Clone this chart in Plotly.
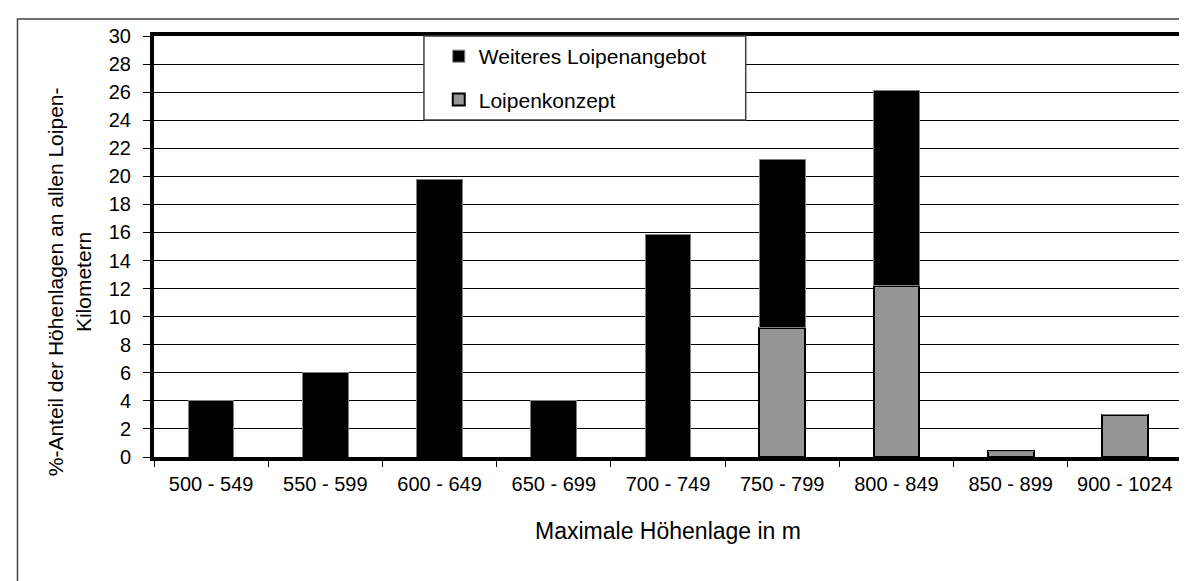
import plotly.graph_objects as go

# Höhenlagen (Kategorien) und Anteile in %
kategorien = ["500 - 549", "550 - 599", "600 - 649", "650 - 699", "700 - 749",
              "750 - 799", "800 - 849", "850 - 899", "900 - 1024"]
loipenkonzept = [0, 0, 0, 0, 0, 9.2, 12.2, 0.4, 3.0]
weiteres_angebot = [4.0, 6.0, 19.75, 4.0, 15.85, 12.0, 13.9, 0, 0]

y_ticks = list(range(0, 31, 2))

schrift = "Liberation Sans, Arial, sans-serif"

fig = go.Figure()

fig.add_trace(go.Bar(
    x=kategorien, y=loipenkonzept, name="Loipenkonzept",
    marker=dict(color="#969696", line=dict(color="#000000", width=2)),
    legendgroup="a", legendrank=2,
))
fig.add_trace(go.Bar(
    x=kategorien, y=weiteres_angebot, name="Weiteres Loipenangebot",
    marker=dict(color="#000000", line=dict(color="#808080", width=1)),
    legendgroup="b", legendrank=1,
))

# Rahmen um das ganze Diagramm und Kasten der Legende
fig.add_shape(type="rect", xref="paper", yref="paper",
              x0=-0.1328, x1=1.03, y0=-0.4, y1=1.0404,
              line=dict(color="#404040", width=1.5), layer="below")
fig.add_shape(type="rect", xref="paper", yref="paper",
              x0=0.2626, x1=0.5756, y0=0.8005, y1=1.0,
              fillcolor="white", line=dict(color="#404040", width=1.5), layer="above")

fig.add_annotation(
    text="%-Anteil der Höhenlagen an allen Loipen-<br>Kilometern",
    xref="paper", yref="paper", x=-0.0824, y=0.4157,
    xanchor="center", yanchor="middle",
    textangle=-90, showarrow=False, align="center",
    font=dict(family=schrift, size=21, color="black"),
)

fig.update_layout(
    width=1187, height=581,
    margin=dict(l=146, r=9, t=28, b=132),
    barmode="stack", bargap=0.6,
    paper_bgcolor="white", plot_bgcolor="white",
    font=dict(family=schrift, size=20, color="black"),
    showlegend=True,
    legend=dict(
        x=0.277, y=1.0, xanchor="left", yanchor="top",
        traceorder="grouped", tracegroupgap=13,
        bgcolor="rgba(0,0,0,0)", borderwidth=0,
        font=dict(family=schrift, size=21, color="black"),
    ),
    xaxis=dict(
        type="category", tickson="boundaries", ticks="outside", ticklen=6,
        tickcolor="black", showgrid=False,
        showline=True, linecolor="black", linewidth=4, mirror=True,
        tickfont=dict(size=20), ticklabelstandoff=6,
        title=dict(text="Maximale Höhenlage in m", font=dict(size=23), standoff=30),
    ),
    yaxis=dict(
        range=[0, 30], tickvals=y_ticks, ticks="outside", ticklen=7,
        tickcolor="black", showgrid=True, gridcolor="black", gridwidth=1,
        showline=True, linecolor="black", linewidth=4, mirror=True,
        zeroline=False, tickfont=dict(size=20), ticklabelstandoff=8,
    ),
)

fig.write_html("out.html")
